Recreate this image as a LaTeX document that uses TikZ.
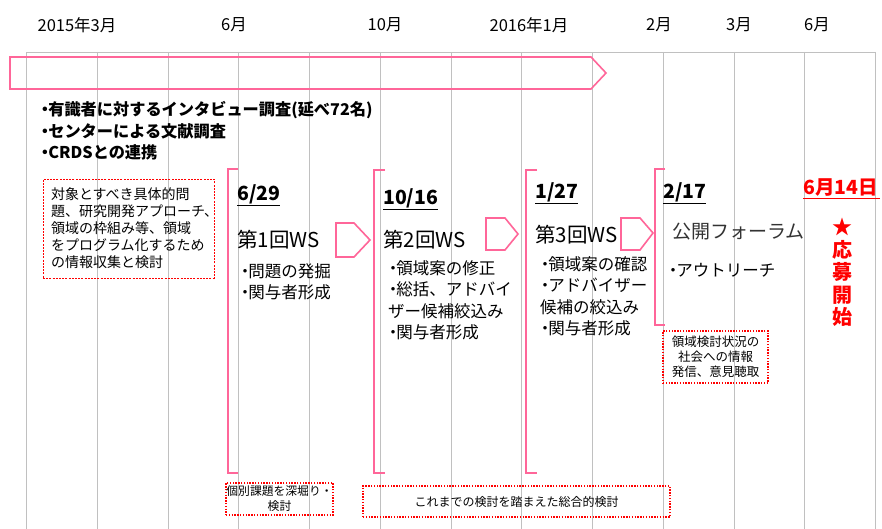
\documentclass[tikz,border=0pt]{standalone}
\usepackage{fontspec}
\setmainfont{Noto Sans CJK JP}
\definecolor{pinkc}{RGB}{255,102,153}
\definecolor{gridc}{RGB}{192,192,192}
\newcommand{\fs}[2]{\fontsize{#1}{#2}\selectfont}
\newcommand{\bul}{\hspace*{-0.2em}・\hspace*{-0.3em}}
\begin{document}
\begin{tikzpicture}[x=1pt,y=-1pt,
 gridline/.style={draw=gridc,line width=0.9pt},
 pinkline/.style={draw=pinkc,line width=1.6pt,line join=miter},
 month/.style={font=\fs{16.5}{18},inner sep=0pt},
 datelbl/.style={font=\fs{19.5}{21}\bfseries,inner sep=0pt,anchor=west},
 wstitle/.style={font=\fs{20.5}{22},inner sep=0pt,anchor=west},
 items/.style={font=\fs{16.5}{21.3},inner sep=0pt,anchor=north west,align=left},
 dotbox/.style={draw=red,dash pattern=on 1.4pt off 1.4pt,line width=1.4pt,inner sep=0pt,align=center},
 thinbox/.style={draw=red,dash pattern=on 2pt off 1.2pt,line width=0.7pt,inner sep=0pt},
]
\useasboundingbox (0,0) rectangle (882,529);
\fill[white] (0,0) rectangle (882,529);

% grid
\foreach \i in {0,...,12} \draw[gridline] ({26.5+70.75*\i},52) -- ({26.5+70.75*\i},529);
\draw[gridline] (26.5,52) -- (875.5,52);

% month labels
\node[month] (m1) at (77,25) {2015年3月};
\node[month] (m2) at (234,25) {6月};
\node[month] (m3) at (385,25) {10月};
\node[month] (m4) at (529,25) {2016年1月};
\node[month] (m5) at (659,25) {2月};
\node[month] (m6) at (739,25) {3月};
\node[month] (m7) at (817,25) {6月};

% long arrow
\draw[pinkline] (10,57) -- (591,57) -- (606,73) -- (591,89) -- (10,89) -- cycle;

% top bullet list
\node[font=\fs{16.2}{21.5}\bfseries,inner sep=0pt,anchor=north west,align=left] (intro) at (40,101.5)
 {\bul 有識者に対するインタビュー調査(延べ72名)\\\bul センターによる文献調査\\\bul CRDSとの連携};

% left box
\node[thinbox,minimum width=171pt,minimum height=99pt,text width=155pt,align=left,font=\fs{14}{17}] (prep) at (128.5,228.5)
 {対象とすべき具体的問\\題、研究開発アプローチ、\\領域の枠組み等、領域\\をプログラム化するため\\の情報収集と検討};

% brackets
\draw[pinkline] (238,169) -- (228,169) -- (228,473) -- (238,473);
\draw[pinkline] (385,170) -- (374,170) -- (374,473) -- (385,473);
\draw[pinkline] (537,170) -- (526,170) -- (526,473) -- (537,473);
\draw[pinkline] (665,169) -- (655,169) -- (655,325) -- (665,325);

% block 1
\node[datelbl] (d1) at (237,195) {\underline{6/29}};
\node[wstitle] (w1) at (237,240) {第1回WS};
\node[items] (i1) at (240,263.5) {\bul 問題の発掘\\\bul 関与者形成};
\draw[pinkline,fill=white] (336,223) -- (354,223) -- (370,240) -- (354,257) -- (336,257) -- cycle;

% block 2
\node[datelbl] (d2) at (383,199) {\underline{10/16}};
\node[wstitle] (w2) at (383,240) {第2回WS};
\node[items] (i2) at (388,260.5) {\bul 領域案の修正\\\bul 総括、アドバイ\\ザー候補絞込み\\\bul 関与者形成};
\draw[pinkline,fill=white] (486,218) -- (505,218) -- (518,234) -- (505,250) -- (486,250) -- cycle;

% block 3
\node[datelbl] (d3) at (535,193) {\underline{1/27}};
\node[wstitle] (w3) at (535,235) {第3回WS};
\node[items] (i3) at (540,256.5) {\bul 領域案の確認\\\bul アドバイザー\\候補の絞込み\\\bul 関与者形成};
\draw[pinkline,fill=white] (621,218) -- (640,218) -- (653,233) -- (640,250) -- (621,250) -- cycle;

% block 4
\node[datelbl] (d4) at (663,193) {\underline{2/17}};
\node[wstitle,font=\fs{19}{22},text=black!80] (w4) at (672,232) {公開フォーラム};
\node[items,anchor=west] (i4) at (668,270) {\bul アウトリーチ};
\node[dotbox,minimum width=105pt,minimum height=52pt,font=\fs{12.5}{15}] (outreach) at (715.5,357)
 {領域検討状況の\\社会への情報\\発信、意見聴取};

% start of application
\node[datelbl,text=red] (d5) at (803,189) {\underline{6月14日\hspace*{2pt}}};
\node[font=\fs{20}{22.5}\bfseries,text=red,inner sep=0pt,anchor=north,align=center] (start) at (842,218)
 {★\\応\\募\\開\\始};

% bottom boxes
\node[dotbox,minimum width=107pt,minimum height=32pt,font=\fs{11.8}{15}] (deep) at (279.5,499)
 {個別課題を深堀り・\\検討};
\node[dotbox,minimum width=307pt,minimum height=31pt,font=\fs{12}{15}] (total) at (516.5,501.5)
 {これまでの検討を踏まえた総合的検討};
\end{tikzpicture}
\end{document}
